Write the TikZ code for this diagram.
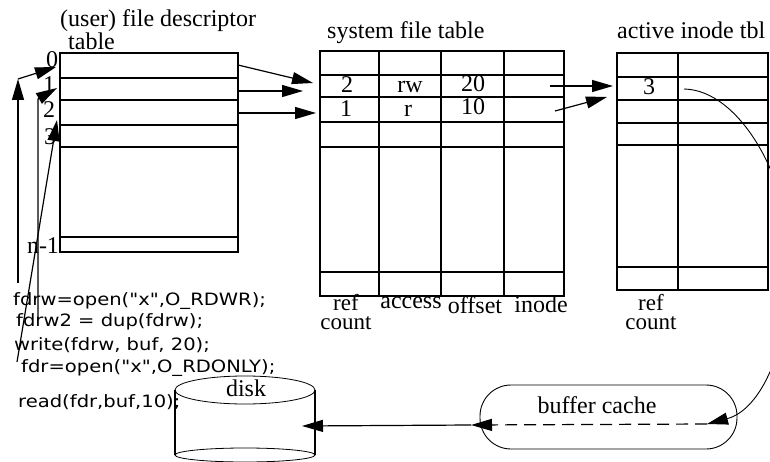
\documentclass[tikz,border=0pt]{standalone}
\usepackage{fontspec}
\setmainfont{Liberation Serif}
\newfontfamily\codefont[FakeStretch=1.15]{DejaVu Sans}
\usetikzlibrary{arrows.meta}

\tikzset{
    tbl/.style={line width=1.4pt},
    arr/.style={line width=1.2pt,-{Triangle[length=21pt,width=12pt]}},
    txt/.style={font=\fontsize{24}{17}\selectfont,inner sep=0pt},
    twoline/.style={txt,font=\fontsize{23}{19}\selectfont,anchor=north,align=center},
    code/.style={font=\codefont\fontsize{17}{18}\selectfont,inner sep=0pt,anchor=base west},
}

\begin{document}
\begin{tikzpicture}[x=1pt,y=-1pt]
    \useasboundingbox (0,0) rectangle (770,462);
    \clip (0,0) rectangle (770,462);
    % (user) file descriptor table
    \draw[tbl] (60,53) rectangle (238,252);
    \foreach \y in {78,100,125,147,237}
        \draw[tbl] (60,\y) -- (238,\y);
    \node[txt,anchor=base west] (fdtitle) at (60,27) {(user) file descriptor};
    \node[txt,anchor=base west] (fdtitleb) at (68,50) {table};
    \node[txt,anchor=base] (fd0) at (52,68) {0};
    \node[txt,anchor=base] (fd1) at (49,93) {1};
    \node[txt,anchor=base] (fd2) at (49,118) {2};
    \node[txt,anchor=base] (fd3) at (50,145) {3};
    \node[txt,anchor=base] (fdn) at (43,253) {n-1};
    % system file table
    \draw[tbl] (320,51) rectangle (564,296);
    \foreach \x in {379,441,504}
        \draw[tbl] (\x,51) -- (\x,296);
    \foreach \y in {75,97,122,147,272}
        \draw[tbl] (320,\y) -- (564,\y);
    \node[txt,anchor=base west] (sftitle) at (327,39) {system file table};
    \node[txt,anchor=base] (sfa) at (347,93) {2};
    \node[txt,anchor=base] (sfb) at (410,93) {rw};
    \node[txt,anchor=base] (sfc) at (473,92) {20};
    \node[txt,anchor=base] (sfd) at (346,117) {1};
    \node[txt,anchor=base] (sfe) at (408,117) {r};
    \node[txt,anchor=base] (sff) at (473,115) {10};
    \node[twoline] (sfref) at (346,294) {ref\\count};
    \node[txt,anchor=base] (sfaccess) at (411,308) {access};
    \node[txt,anchor=base] (sfoffset) at (475,313) {offset};
    \node[txt,anchor=base] (sfinode) at (541,312) {inode};
    % active inode table
    \draw[tbl] (617,53) rectangle (768,290);
    \draw[tbl] (678,53) -- (678,290);
    \foreach \y in {77,100,123,145,267}
        \draw[tbl] (617,\y) -- (768,\y);
    \node[txt,anchor=base west] (ittitle) at (617,39) {active inode tbl};
    \node[txt,anchor=base] (ita) at (649,95) {3};
    \node[twoline] (itref) at (651,294) {ref\\count};
    % code
    \node[code] (open1) at (13,305) {fdrw=open("x",O\_RDWR);};
    \node[code] (dup1) at (16,326) {fdrw2 = dup(fdrw);};
    \node[code] (write1) at (14,350) {write(fdrw, buf, 20);};
    \node[code] (open2) at (21,372) {fdr=open("x",O\_RDONLY);};
    \node[code] (read1) at (18,407) {read(fdr,buf,10);};
    % disk
    \draw[line width=0.8pt] (245,390) ellipse [x radius=70, y radius=14];
    \draw[line width=0.8pt] (245,455) ellipse [x radius=70, y radius=7];
    \draw[line width=1.3pt] (175,390) -- (175,455) (315,390) -- (315,455);
    \node[txt,anchor=base] (disk) at (246,396) {disk};
    % buffer cache
    \draw[line width=0.9pt,rounded corners=31pt] (480,385) rectangle (737,449);
    \node[txt,anchor=base] (cache) at (597,413) {buffer cache};
    % connector ends
    \coordinate (openA) at (18,283);
    \coordinate (openB) at (18,79);
    \coordinate (fd0in) at (56,67);
    \coordinate (dupA) at (38,318);
    \coordinate (dupB) at (38,99);
    \coordinate (fd1in) at (57,88);
    \coordinate (fdrA) at (17,362);
    \coordinate (fd3in) at (57,120);
    \coordinate (fd0out) at (238,65);
    \coordinate (fd1out) at (238,91);
    \coordinate (fd2out) at (238,113);
    \coordinate (sf1in) at (313,83);
    \coordinate (sf2in) at (303,91);
    \coordinate (sf3in) at (316,113);
    \coordinate (sf1out) at (550,86);
    \coordinate (sf2out) at (555,111);
    \coordinate (it1in) at (613,86);
    \coordinate (it2in) at (607,97);
    \coordinate (itout) at (684,89);
    \coordinate (cacheR) at (707,424);
    \coordinate (cacheL) at (471,425);
    \coordinate (diskin) at (302,426);
    % user fds -> file descriptor table
    \draw[arr] (openA) -- (openB);
    \draw[arr] (openB) -- (fd0in);
    \draw[arr] (dupA) -- (dupB) -- (fd1in);
    \draw[arr] (fdrA) -- (fd3in);
    % file descriptor table -> system file table
    \draw[arr] (fd0out) -- (sf1in);
    \draw[arr] (fd1out) -- (sf2in);
    \draw[arr] (fd2out) -- (sf3in);
    % system file table -> active inode tbl
    \draw[arr] (sf1out) -- (it1in);
    \draw[arr] (sf2out) -- (it2in);
    % inode -> buffer cache -> disk
    \draw[line width=0.9pt,-{Triangle[length=21pt,width=12pt]}] (itout)
        .. controls (740,90) and (790,180) .. (790,260)
        .. controls (790,350) and (760,410) .. (cacheR);
    \draw[arr,dash pattern=on 12pt off 7pt] (cacheR) -- (cacheL);
    \draw[arr] (cacheL) -- (diskin);
\end{tikzpicture}
\end{document}
